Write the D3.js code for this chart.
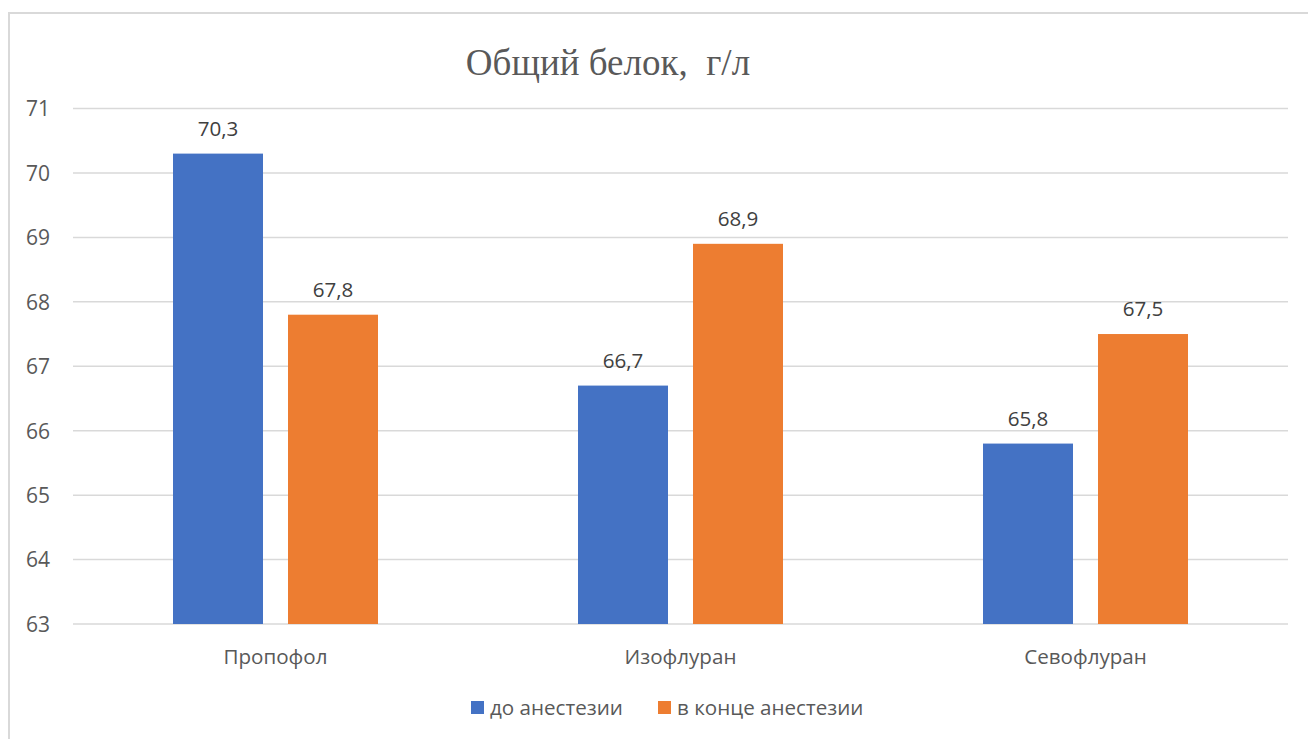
<!DOCTYPE html>
<html>
<head>
<meta charset="utf-8">
<script src="https://cdn.jsdelivr.net/npm/d3@7"></script>
<style>
  html, body { margin: 0; padding: 0; background: #fff; }
  svg { display: block; }
</style>
</head>
<body>
<svg id="chart" width="1308" height="739"></svg>
<script>
// Total protein, g/L, by anaesthetic agent
const categories = ["Пропофол", "Изофлуран", "Севофлуран"];
const seriesNames = ["до анестезии", "в конце анестезии"];
const beforeValues = [70.3, 66.7, 65.8];
const endValues = [67.8, 68.9, 67.5];
const yTicks = [63, 64, 65, 66, 67, 68, 69, 70, 71];
const titleText = "Общий белок,  г/л";

const colors = ["#4472c4", "#ed7d31"];
const textColor = "#595959";
const gridColor = "#d9d9d9";
const sansFont = "'Open Sans', 'Noto Sans', sans-serif";

const svg = d3.select("#chart");

// chart frame (continues past the right and bottom edges)
svg.append("rect")
  .attr("x", 9).attr("y", 13)
  .attr("width", 1400).attr("height", 800)
  .attr("fill", "#fff")
  .attr("stroke", gridColor)
  .attr("stroke-width", 2);

const plot = { left: 73, right: 1288, top: 108.5, bottom: 624 };

const y = d3.scaleLinear().domain([63, 71]).range([plot.bottom, plot.top]);

const x0 = d3.scaleBand()
  .domain(categories)
  .range([plot.left, plot.right])
  .paddingInner(200 / 405)
  .paddingOuter(100 / 405);

const x1 = d3.scaleBand()
  .domain(seriesNames)
  .range([0, x0.bandwidth()])
  .paddingInner(25 / 115);

// horizontal gridlines
svg.append("g")
  .selectAll("line")
  .data(yTicks)
  .join("line")
  .attr("x1", plot.left).attr("x2", plot.right)
  .attr("y1", d => y(d)).attr("y2", d => y(d))
  .attr("stroke", gridColor)
  .attr("stroke-width", 1.5);

// y axis labels
const yAxis = d3.axisLeft(y).tickValues(yTicks).tickSize(0).tickPadding(0)
  .tickFormat(d => String(d));
const yg = svg.append("g")
  .attr("transform", `translate(${plot.left - 23},0)`)
  .call(yAxis);
yg.select(".domain").remove();
yg.selectAll("text")
  .attr("fill", textColor)
  .attr("font-family", sansFont)
  .attr("font-size", 21)
  .attr("dy", "0.35em");

// x axis labels
const xAxis = d3.axisBottom(x0).tickSize(0).tickPadding(0);
const xg = svg.append("g")
  .attr("transform", `translate(0,${plot.bottom + 25})`)
  .call(xAxis);
xg.select(".domain").remove();
xg.selectAll("text")
  .attr("fill", textColor)
  .attr("font-family", sansFont)
  .attr("font-size", 20.6)
  .attr("dy", "0.71em");

// bars
const rows = categories.map((c, i) => ({
  category: c,
  values: [
    { series: seriesNames[0], value: beforeValues[i], color: colors[0] },
    { series: seriesNames[1], value: endValues[i], color: colors[1] }
  ]
}));

const groups = svg.append("g")
  .selectAll("g")
  .data(rows)
  .join("g")
  .attr("transform", d => `translate(${x0(d.category)},0)`);

groups.selectAll("rect")
  .data(d => d.values)
  .join("rect")
  .attr("x", d => x1(d.series))
  .attr("width", x1.bandwidth())
  .attr("y", d => y(d.value))
  .attr("height", d => y(63) - y(d.value))
  .attr("fill", d => d.color);

// value labels
groups.selectAll("text")
  .data(d => d.values)
  .join("text")
  .attr("x", d => x1(d.series) + x1.bandwidth() / 2)
  .attr("y", d => y(d.value) - 18)
  .attr("text-anchor", "middle")
  .attr("fill", "#404040")
  .attr("font-family", sansFont)
  .attr("font-size", 20.6)
  .text(d => d.value.toFixed(1).replace(".", ","));

// title
svg.append("text")
  .attr("x", 608).attr("y", 75)
  .attr("text-anchor", "middle")
  .attr("fill", textColor)
  .attr("font-family", "'Liberation Serif', 'Times New Roman', serif")
  .attr("font-size", 37)
  .style("white-space", "pre")
  .text(titleText);

// legend
const legendItems = [
  { name: seriesNames[0], color: colors[0], x: 471 },
  { name: seriesNames[1], color: colors[1], x: 658 }
];
const lg = svg.append("g")
  .selectAll("g")
  .data(legendItems)
  .join("g")
  .attr("transform", d => `translate(${d.x},701)`);
lg.append("rect")
  .attr("width", 13).attr("height", 13)
  .attr("fill", d => d.color);
lg.append("text")
  .attr("x", 19).attr("y", 14)
  .attr("fill", textColor)
  .attr("font-family", sansFont)
  .attr("font-size", 20.6)
  .text(d => d.name);
</script>
</body>
</html>
